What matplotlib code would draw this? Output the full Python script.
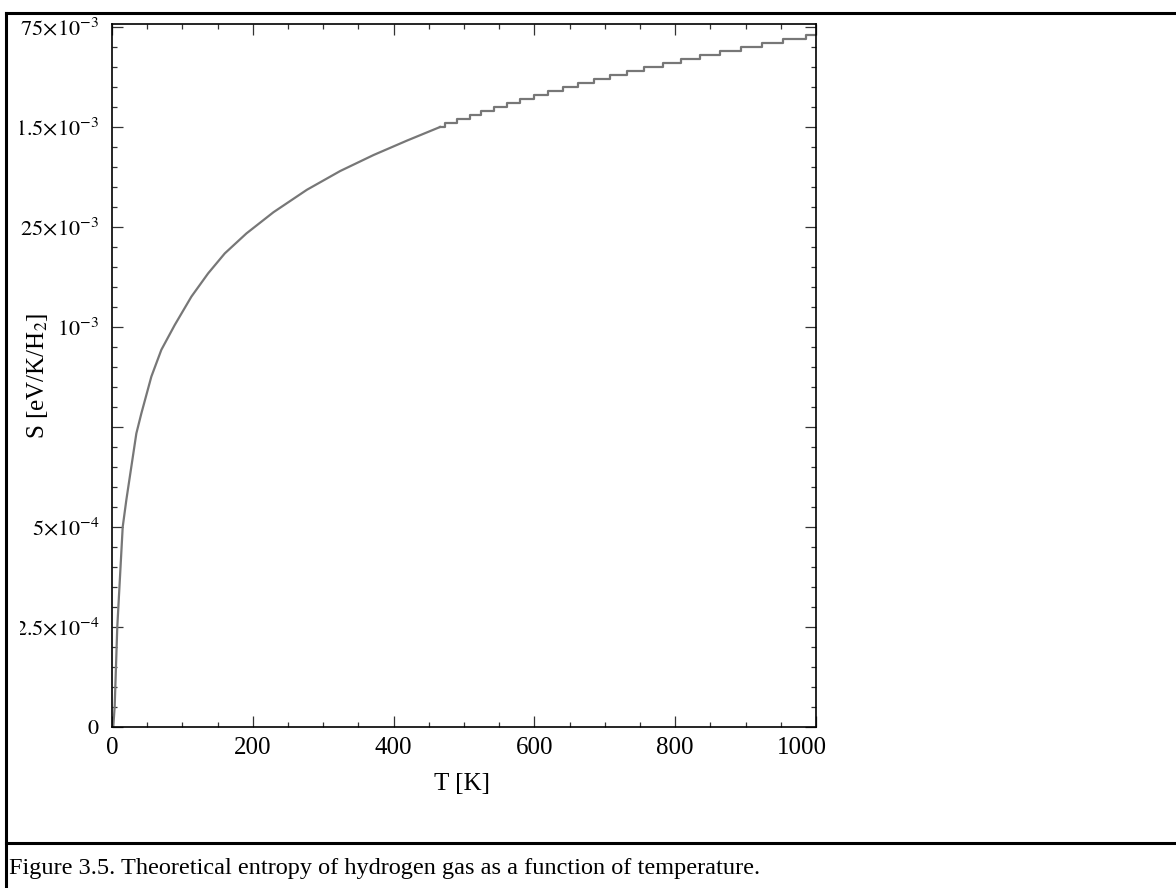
import matplotlib
matplotlib.use('Agg')
import matplotlib.pyplot as plt
import matplotlib.transforms as mtransforms
from matplotlib.lines import Line2D
from matplotlib.patches import Rectangle
from matplotlib.ticker import MultipleLocator, FixedLocator

plt.rcParams['font.family'] = ['Liberation Serif', 'DejaVu Serif']
plt.rcParams['mathtext.fontset'] = 'stix'

# %%
# Data
# ''''''''''''''''''''''''

# low temperature part of the curve (K, eV/K/H2)
t_low = [1.8, 3.8, 7.5, 15.2, 20.4, 22.7, 34.6, 41.7, 55.9, 70.1, 89.1,
         112.8, 136.5, 160.2, 191.0, 229.4, 276.8, 324.2, 371.6, 419.0, 466.0]
s_low = [0.0, 0.51e-4, 2.5e-4, 5.0e-4, 5.68e-4, 5.95e-4, 7.34e-4, 7.84e-4,
         8.76e-4, 9.43e-4, 1.005e-3, 1.076e-3, 1.134e-3, 1.184e-3, 1.234e-3,
         1.287e-3, 1.343e-3, 1.390e-3, 1.430e-3, 1.466e-3, 1.50e-3]

# staircase at high temperature: where each step starts and its level
t_step = [466.0, 473.5, 490.1, 508.1, 524.2, 542.2, 561.2, 580.1, 599.1,
          619.0, 640.8, 661.6, 684.4, 707.0, 731.8, 756.0, 782.3, 807.6,
          834.9, 863.5, 893.0, 922.8, 953.6, 986.0, 1000.0]
s_step = [1.50e-3, 1.51e-3, 1.52e-3, 1.53e-3, 1.54e-3, 1.55e-3, 1.56e-3,
          1.57e-3, 1.58e-3, 1.59e-3, 1.60e-3, 1.61e-3, 1.62e-3, 1.63e-3,
          1.64e-3, 1.65e-3, 1.66e-3, 1.67e-3, 1.68e-3, 1.69e-3, 1.70e-3,
          1.71e-3, 1.72e-3, 1.73e-3, 1.73e-3]

y_ticks = [0, 2.5e-4, 5e-4, 7.5e-4, 1e-3, 1.25e-3, 1.5e-3, 1.75e-3]
y_labels = [r'$0$', r'$2.5{\times}10^{-4}$', r'$5{\times}10^{-4}$', '',
            r'$10^{-3}$', r'$1.25{\times}10^{-3}$', r'$1.5{\times}10^{-3}$',
            r'$1.75{\times}10^{-3}$']
x_ticks = [0, 200, 400, 600, 800, 1000]

W, H = 1176, 888
fig = plt.figure(figsize=(W / 100, H / 100), dpi=100)
ax = fig.add_axes([112 / W, 1 - 727 / H, 704 / W, 703 / H])

line_kw = dict(color='#777777', lw=1.6)
ax.plot(t_low, s_low, **line_kw)
ax.step(t_step, s_step, where='post', **line_kw)

ax.set_xlim(0, 1000)
ax.set_ylim(0, 1.7575e-3)
ax.xaxis.set_major_locator(FixedLocator(x_ticks))
ax.xaxis.set_minor_locator(MultipleLocator(50))
ax.yaxis.set_major_locator(FixedLocator(y_ticks))
ax.yaxis.set_minor_locator(MultipleLocator(5e-5))
ax.set_yticklabels(y_labels)
ax.set_xticklabels([str(v) for v in x_ticks])
ax.tick_params(which='both', direction='in', top=True, right=True,
               width=0.9, color='#333333')
ax.tick_params(which='major', length=8)
ax.tick_params(which='minor', length=3.8)
ax.tick_params(axis='x', pad=7, labelsize=18)
ax.tick_params(axis='y', pad=9, labelsize=16)
for sp in ax.spines.values():
    sp.set_linewidth(1.2)

# last x label sits a little left of its tick
lab = ax.get_xticklabels()[-1]
lab.set_transform(lab.get_transform() + mtransforms.ScaledTranslation(-14 / 100, 0, fig.dpi_scale_trans))

fig.text(462 / W, 1 - 784 / H, 'T [K]', ha='center', va='center', fontsize=18)
fig.text(37 / W, 1 - 376 / H, r'S [eV/K/H$_2$]', ha='center', va='center',
         rotation=90, fontsize=18)

# table cell: labels are cut at the left edge, frame and caption
fig.patches.append(Rectangle((0, 0), 20 / W, 1, transform=fig.transFigure,
                             facecolor='white', edgecolor='none', zorder=5))
frame_kw = dict(color='black', lw=2.2, transform=fig.transFigure, zorder=6)
fig.add_artist(Line2D([6 / W, 6 / W], [0, 1 - 13 / H], **frame_kw))
fig.add_artist(Line2D([6 / W, 1], [1 - 13 / H, 1 - 13 / H], **frame_kw))
fig.add_artist(Line2D([6 / W, 1], [1 - 843 / H, 1 - 843 / H], **frame_kw))
fig.text(9 / W, 1 - 874 / H,
         'Figure 3.5. Theoretical entropy of hydrogen gas as a function of temperature.',
         ha='left', va='baseline', fontsize=17.5, zorder=7)

fig.savefig('out.png', dpi=100)
